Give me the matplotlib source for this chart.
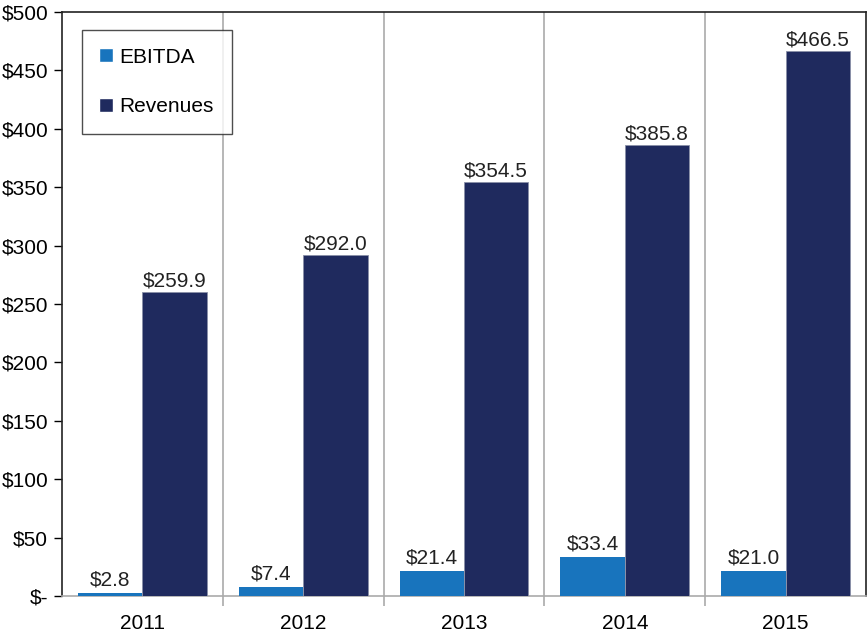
import matplotlib
matplotlib.use("Agg")
import matplotlib.pyplot as plt
import numpy as np
from matplotlib.lines import Line2D

years = ["2011", "2012", "2013", "2014", "2015"]
ebitda = [2.8, 7.4, 21.4, 33.4, 21.0]
revenues = [259.9, 292.0, 354.5, 385.8, 466.5]
yticks = [0, 50, 100, 150, 200, 250, 300, 350, 400, 450, 500]
ytick_labels = ["$-", "$50", "$100", "$150", "$200", "$250", "$300", "$350", "$400", "$450", "$500"]

plt.rcParams['font.family'] = ['Liberation Sans', 'DejaVu Sans']
c_e = "#1874bd"
c_r = "#1f2a5e"
fs = 15

fig = plt.figure(figsize=(8.68, 6.32), dpi=100)
ax = fig.add_axes([62/868, 1-596/632, 804/868, 584/632])
x = np.arange(len(years))
w = 0.4
ax.bar(x - w/2, ebitda, w, color=c_e, zorder=3)
ax.bar(x + w/2, revenues, w, color=c_r, edgecolor="#8a90a8", linewidth=0.6, zorder=3)

for xi, v in zip(x, ebitda):
    ax.text(xi - w/2, v + 3, f"${v:.1f}", ha="center", va="bottom", fontsize=fs, color="#222222")
for xi, v in zip(x, revenues):
    ax.text(xi + w/2, v + 1.5, f"${v:.1f}", ha="center", va="bottom", fontsize=fs, color="#222222")

ax.set_xlim(-0.5, len(years) - 0.5)
ax.set_ylim(0, 500)
ax.set_yticks(yticks)
ax.set_yticklabels(ytick_labels, fontsize=fs)
ax.set_xticks(x)
ax.set_xticklabels(years, fontsize=fs)
ax.tick_params(axis="x", which="major", length=0, pad=13)
ax.set_xticks(np.arange(0.5, len(years) - 1, 1), minor=True)
ax.tick_params(axis="x", which="minor", length=7, color="#aaaaaa", width=1.2)
ax.tick_params(axis="y", length=6, color="black", width=1, pad=4)
ax.xaxis.grid(True, which="minor", color="#aaaaaa", linewidth=1.2, zorder=1)

for s in ["left", "top", "right"]:
    ax.spines[s].set_color("#222222")
    ax.spines[s].set_linewidth(1.2)
ax.spines["bottom"].set_color("#aaaaaa")
ax.spines["bottom"].set_linewidth(1.2)

handles = [Line2D([0], [0], marker="s", color="w", markerfacecolor=c_e, markersize=10, linestyle="None"),
           Line2D([0], [0], marker="s", color="w", markerfacecolor=c_r, markersize=10, linestyle="None")]
leg = ax.legend(handles, ["EBITDA", "Revenues"], loc="upper left", bbox_to_anchor=(20/804, 1-18/584),
                fontsize=fs, frameon=True, fancybox=False, labelspacing=1.45, handlelength=0.6,
                handletextpad=0.35, borderpad=0.85, borderaxespad=0)
leg.get_frame().set_edgecolor("#222222")
leg.get_frame().set_linewidth(1.0)
leg.set_zorder(5)

fig.savefig("out.png", dpi=100)
